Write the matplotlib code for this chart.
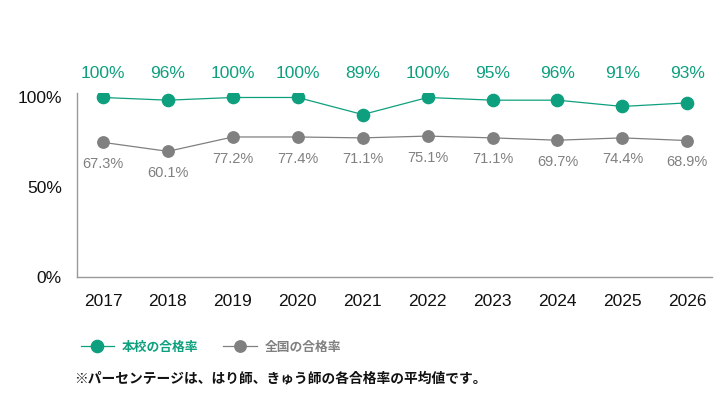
import matplotlib
matplotlib.use("Agg")
import matplotlib.pyplot as plt
import matplotlib.transforms as mtransforms
from matplotlib.lines import Line2D

years = ["2017", "2018", "2019", "2020", "2021", "2022", "2023", "2024", "2025", "2026"]
# plotted positions (as drawn in the reference) and the printed labels
school_rate = [100, 98.5, 100, 100, 90.5, 100, 98.5, 98.5, 95, 97]
school_labels = ["100%", "96%", "100%", "100%", "89%", "100%", "95%", "96%", "91%", "93%"]
national_rate = [75, 70, 78, 78, 77.5, 78.5, 77.5, 76.2, 77.5, 76]
national_labels = ["67.3%", "60.1%", "77.2%", "77.4%", "71.1%", "75.1%", "71.1%", "69.7%", "74.4%", "68.9%"]
y_ticks = [0, 50, 100]
y_ticklabels = ["0%", "50%", "100%"]

green = "#0ea07e"
gray = "#808080"
num_font = ["Liberation Sans", "DejaVu Sans"]
jp_font = ["Noto Sans CJK JP", "DejaVu Sans"]

fig = plt.figure(figsize=(7.28, 4.0), dpi=100)
ax = fig.add_axes([77 / 728, 1 - 277 / 400, (712 - 77) / 728, (277 - 93) / 400])

x = list(range(len(years)))
ax.plot(x, school_rate, color=green, lw=0.9, marker="o", ms=8.8, zorder=3)
ax.plot(x, national_rate, color=gray, lw=0.9, marker="o", ms=8.2, zorder=3)

top_row = mtransforms.blended_transform_factory(ax.transData, fig.transFigure)
for xi, lab in zip(x, school_labels):
    ax.text(xi, 1 - 73 / 400, lab, transform=top_row,
            ha="center", va="center", color=green, fontsize=12.5, family=num_font)

for xi, yi, lab in zip(x, national_rate, national_labels):
    ax.annotate(lab, (xi, yi), xytext=(0, -15.5), textcoords="offset points",
                ha="center", va="center", color=gray, fontsize=10.5, family=num_font)

ax.set_xlim(-0.4, 9.38)
ax.set_ylim(0, 102.5)
ax.set_xticks(x)
ax.set_xticklabels(years, family=num_font, fontsize=12.5, color="#111111")
ax.set_yticks(y_ticks)
ax.set_yticklabels(y_ticklabels, family=num_font, fontsize=12.5, color="#111111")
ax.tick_params(axis="both", length=0)
ax.tick_params(axis="y", pad=11)
ax.tick_params(axis="x", pad=12)
for s in ["top", "right"]:
    ax.spines[s].set_visible(False)
for s in ["left", "bottom"]:
    ax.spines[s].set_color("#999999")
    ax.spines[s].set_linewidth(1.0)

handles = [
    Line2D([], [], color=green, lw=0.9, marker="o", ms=8.8),
    Line2D([], [], color=gray, lw=0.9, marker="o", ms=8.2),
]
leg = fig.legend(handles, ["本校の合格率", "全国の合格率"], loc="center left",
                 bbox_to_anchor=(69 / 728, 1 - 347 / 400), ncol=2, frameon=False,
                 prop={"family": jp_font, "size": 9.2, "weight": "bold"},
                 handlelength=2.6, handletextpad=0.6, columnspacing=2.0)
for t, c in zip(leg.get_texts(), [green, gray]):
    t.set_color(c)

fig.text(74 / 728, 1 - 378 / 400, "※パーセンテージは、はり師、きゅう師の各合格率の平均値です。",
         family=jp_font, fontsize=9.9, weight="bold", color="#111111", va="center", ha="left")

fig.savefig("out.png", dpi=100)
